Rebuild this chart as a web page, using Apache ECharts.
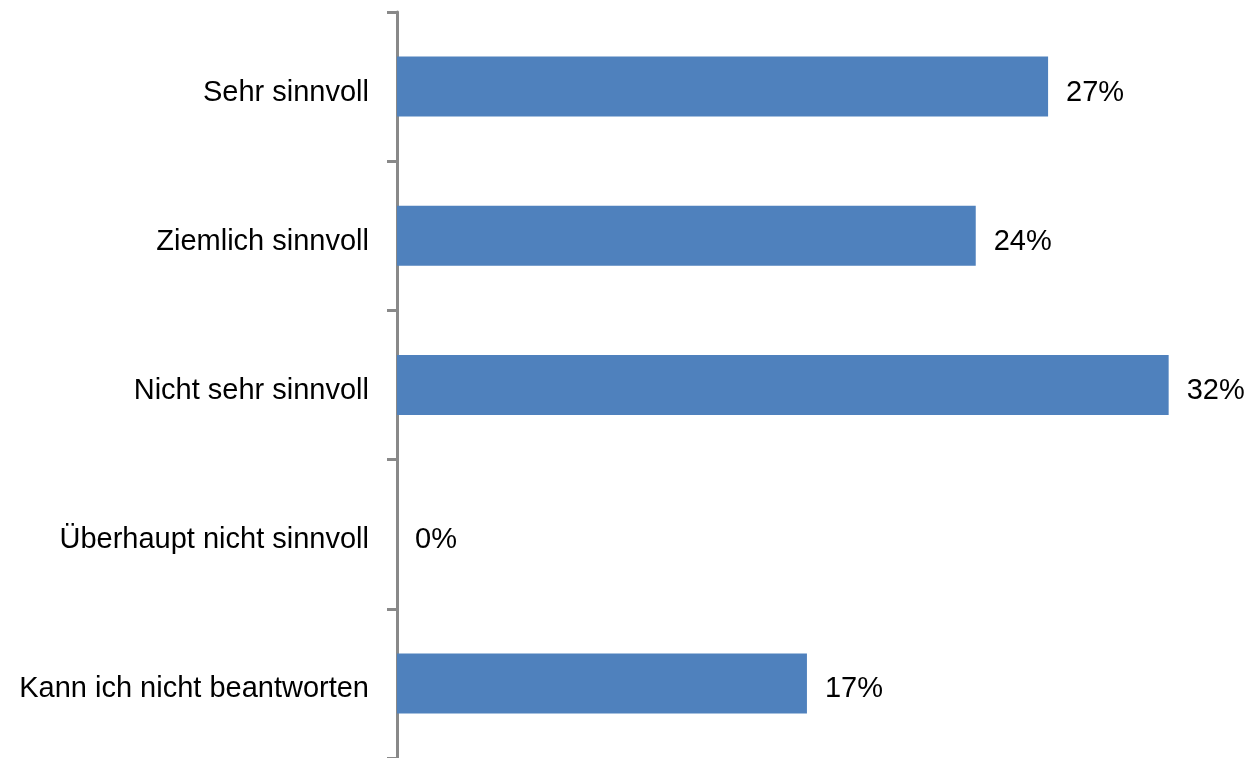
<!DOCTYPE html>
<html>
<head>
<meta charset="utf-8">
<script src="https://cdn.jsdelivr.net/npm/echarts@6/dist/echarts.min.js"></script>
<style>
  html, body { margin: 0; padding: 0; background: #fff; }
  #chart { width: 1251px; height: 758px; }
</style>
</head>
<body>
<div id="chart"></div>
<script>
// Survey answers, listed top to bottom
const categories = [
  'Sehr sinnvoll',
  'Ziemlich sinnvoll',
  'Nicht sehr sinnvoll',
  'Überhaupt nicht sinnvoll',
  'Kann ich nicht beantworten'
];
// Share of respondents in percent
const shares = [27, 24, 32, 0, 17];

const FONT = '"Liberation Sans", Arial, Helvetica, sans-serif';
const chart = echarts.init(document.getElementById('chart'), null, { renderer: 'canvas' });

chart.setOption({
  animation: false,
  backgroundColor: '#ffffff',
  grid: { left: 397, right: 10, top: 12, bottom: 0, containLabel: false },
  xAxis: {
    type: 'value',
    min: 0,
    max: 35,
    show: false
  },
  yAxis: {
    type: 'category',
    data: categories,
    inverse: true,
    offset: 2,
    axisLine: { show: true, lineStyle: { color: '#898989', width: 3 } },
    axisTick: { show: true, length: 10, lineStyle: { color: '#898989', width: 3 } },
    axisLabel: {
      margin: 26,
      formatter: (v) => '{t|' + v + '}',
      rich: {
        t: {
          color: '#000',
          fontFamily: FONT,
          fontSize: 29,
          padding: [12, 0, 0, 0]
        }
      }
    },
    splitLine: { show: false }
  },
  series: [{
    type: 'bar',
    data: shares,
    barWidth: 60,
    itemStyle: { color: '#4F81BD' },
    label: {
      show: true,
      position: 'right',
      distance: 18,
      offset: [0, 6],
      formatter: '{c}%',
      color: '#000',
      fontFamily: FONT,
      fontSize: 29
    }
  }]
});
</script>
</body>
</html>
